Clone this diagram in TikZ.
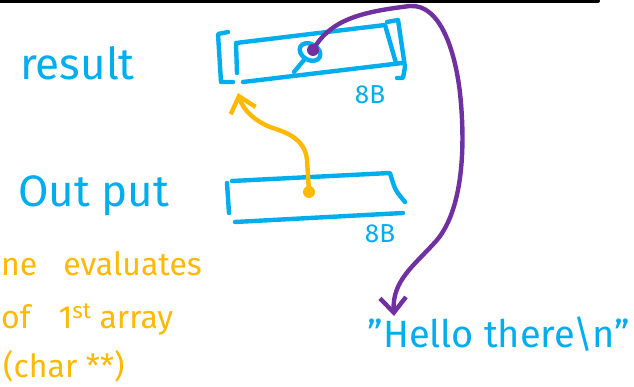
\documentclass[tikz,border=0pt]{standalone}
\usepackage{fontspec}
\setmainfont{Fira Sans}
\usetikzlibrary{arrows.meta,positioning}
\definecolor{inkblue}{HTML}{00AEEF}
\definecolor{inkgold}{HTML}{FFB900}
\definecolor{inkpurple}{HTML}{7030A0}

\begin{document}
\begin{tikzpicture}[x=1pt, y=-1pt,
  pen/.style={line width=4.4pt, line cap=round, line join=round},
  lbl/.style={inner sep=0pt, anchor=base west, text=inkblue, font=\fontsize{44}{48}\selectfont},
  note/.style={inner sep=0pt, anchor=base west, text=inkgold, font=\fontsize{32}{36}\selectfont},
  sizelbl/.style={inner sep=0pt, text=inkblue, font=\fontsize{26}{28}\selectfont},
  dot/.style={circle, inner sep=0pt, minimum size=12pt},
  ptr/.style={pen, -{Straight Barb[length=15pt, width=26pt]}}
]
\useasboundingbox (0,0) rectangle (634,387);
\fill[white] (0,0) rectangle (634,387);

% top edge
\draw[line width=4pt, line cap=round] (-5,1) -- (598,1);

% labels
\node[lbl] (result) at (20,80) {result};
\node[lbl] (output) at (18,207) {Out put};

% result cell
\draw[pen, inkblue] (228,32) -- (218,34) -- (221,82) -- (233,82);
\draw[pen, inkblue] (387,22) -- (398,20) -- (405,67) -- (403,78) -- (397,78);
\draw[pen, inkblue] (237,73) -- (236,43) -- (385,25) -- (396,63);
\draw[pen, inkblue] (243,82) -- (402,63);
\draw[pen, inkblue, rotate around={-30:(310,52)}] (310,52) ellipse (11pt and 8pt);
\draw[pen, inkblue] (304,60) -- (294,72);
\node[sizelbl] (size1) at (370,95) {8B};

% output cell
\draw[pen, inkblue] (227,183) -- (229,213);
\draw[pen, inkblue] (232,181) -- (390,173) .. controls (395,190) .. (405,202);
\draw[pen, inkblue] (235,222) -- (403,213);
\node[sizelbl] (size2) at (380,234) {8B};

% string
\node[inner sep=0pt, text=inkblue, font=\fontsize{38}{42}\selectfont] (hello) at (499,334) {"Hello there\textbackslash n"};

% note
\node[note] (line1) at (1,276) {ne\hspace{26pt}evaluates};
\node[note] (line2) at (1,328) {of\hspace{28pt}1\textsuperscript{st}\hspace{8pt}array};
\node[note] (line3) at (3,377) {(char **)};

% pointers
\node[dot, fill=inkgold] (outdot) at (309,192) {};
\coordinate (restip) at (238,93);
\draw[ptr, inkgold] (outdot.center) -- (307,160) .. controls (305,138) and (285,132) .. (270,127)
  .. controls (255,121) and (243,110) .. (restip);

\node[dot, fill=inkpurple] (resdot) at (313,50) {};
\coordinate (strtip) at (394,316);
\draw[ptr, inkpurple] (resdot.center) .. controls (330,20) and (360,12) .. (410,6)
  .. controls (440,4) and (455,50) .. (460,93)
  .. controls (466,150) and (462,210) .. (437,240)
  .. controls (415,265) and (392,280) .. (strtip);
\end{tikzpicture}
\end{document}
